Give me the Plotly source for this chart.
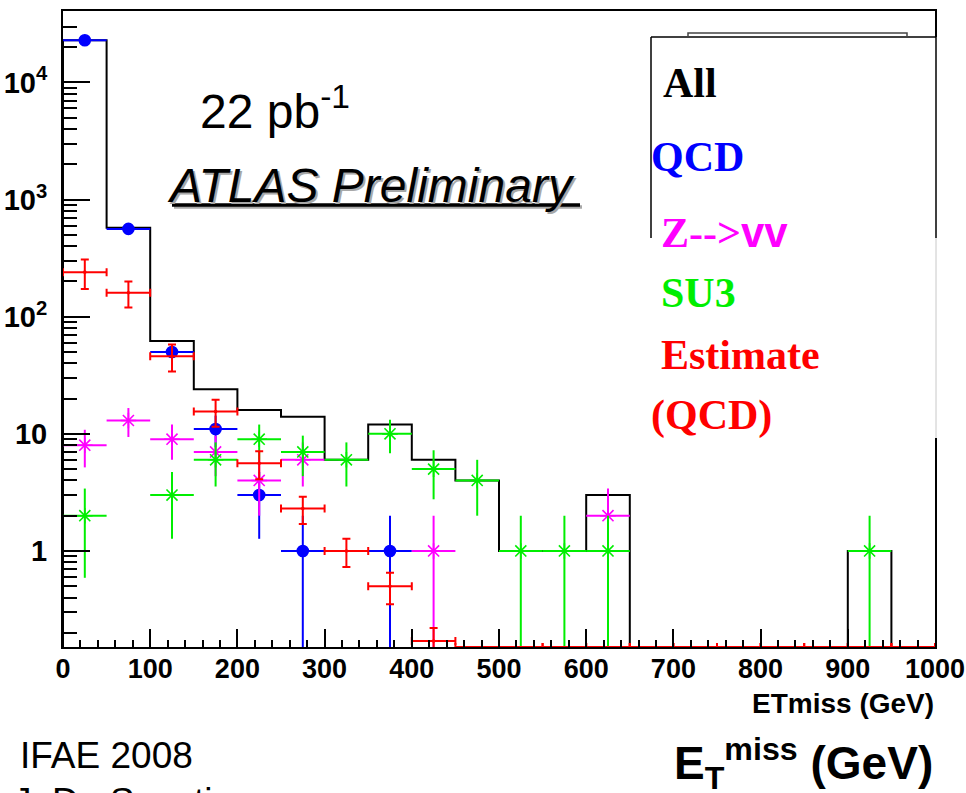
import math
import plotly.graph_objects as go

# Missing transverse energy, 50 GeV bins from 0 to 1000 GeV
bin_edges = [0, 50, 100, 150, 200, 250, 300, 350, 400, 450, 500,
             550, 600, 650, 700, 750, 800, 850, 900, 950, 1000]
bin_centers = [25, 75, 125, 175, 225, 275, 325, 375, 425, 475, 525,
               575, 625, 675, 725, 775, 825, 875, 925, 975]

# Sum of all samples (histogram)
all_counts = [22900, 575, 62, 24, 16, 14, 6, 12, 6, 4, 1, 1, 3, 0, 0, 0, 0, 0, 1, 0]

# QCD Monte Carlo
qcd_counts = [22890, 562, 50, 11, 3, 1, 0, 1, 0, 0, 0, 0, 0, 0, 0, 0, 0, 0, 0, 0]
qcd_err = [151, 23.7, 7.1, 3.3, 1.73, 1, 0, 1, 0, 0, 0, 0, 0, 0, 0, 0, 0, 0, 0, 0]

# Z -> nu nu
znn_counts = [8, 13, 9, 7, 4, 6, 0, 0, 1, 0, 0, 0, 2, 0, 0, 0, 0, 0, 0, 0]
znn_err = [2.83, 3.6, 3, 2.65, 2, 2.45, 0, 0, 1, 0, 0, 0, 1.41, 0, 0, 0, 0, 0, 0, 0]

# SUSY benchmark SU3
su3_counts = [2, 0, 3, 6, 9, 7, 6, 10, 5, 4, 1, 1, 1, 0, 0, 0, 0, 0, 1, 0]
su3_err = [1.41, 0, 1.73, 2.45, 3, 2.65, 2.45, 3.16, 2.24, 2, 1, 1, 1, 0, 0, 0, 0, 0, 1, 0]

# Data-driven QCD estimate
est_counts = [240, 160, 46, 15.5, 5.6, 2.3, 1.0, 0.5, 0.17, 0, 0, 0, 0, 0, 0, 0, 0, 0, 0, 0]
est_err = [68, 40, 12, 4, 1.5, 0.6, 0.27, 0.15, 0.05, 0, 0, 0, 0, 0, 0, 0, 0, 0, 0, 0]

x_tick_vals = [0, 100, 200, 300, 400, 500, 600, 700, 800, 900, 1000]
y_tick_vals = [1, 10, 100, 1000, 10000]
y_tick_text = ["1", "10", "10<sup>2</sup>", "10<sup>3</sup>", "10<sup>4</sup>"]

legend_entries = [("All", "#000000"), ("QCD", "#0000ff"),
                  ("Z--><span style=\"font-family:'Liberation Sans', Arial\">vv</span>", "#ff00ff"),
                  ("SU3", "#00ee00"), ("Estimate", "#ff0000"), ("(QCD)", "#ff0000")]

# ---- page geometry (pixels)
FIG_W, FIG_H = 966, 793
PL, PR, PT, PB = 63, 935, 11, 647
Y_LOG = [-0.82, 4.61]
FLOOR = 10 ** Y_LOG[0]


def px(x):
    return (x - PL) / (PR - PL)


def py(y):
    return (PB - y) / (PB - PT)


fig = go.Figure()

# "All" histogram as a step line; empty bins drop to the frame floor
step_x = [bin_edges[0]] + bin_edges[:-1] + [bin_edges[-1], bin_edges[-1]]
step_vals = [max(v, FLOOR) for v in all_counts]
step_y = [FLOOR] + step_vals + [step_vals[-1], FLOOR]
fig.add_trace(go.Scatter(x=step_x, y=step_y, mode="lines", line_shape="hv",
                         line=dict(color="black", width=2), hoverinfo="skip"))


def points(counts, errs, color, symbol, size, cap=0):
    xs, ys, ex, ey = [], [], [], []
    for c, v, e in zip(bin_centers, counts, errs):
        if v > 0:
            xs.append(c)
            ys.append(v)
            ey.append(e)
            ex.append(25)
    return go.Scatter(
        x=xs, y=ys, mode="markers",
        marker=dict(symbol=symbol, size=size, color=color,
                    line=dict(color=color, width=1.6)),
        error_x=dict(type="data", array=ex, color=color, thickness=2, width=cap),
        error_y=dict(type="data", array=ey, color=color, thickness=2, width=cap),
        hoverinfo="skip")


fig.add_trace(points(qcd_counts, qcd_err, "#0000ff", "circle", 11))
fig.add_trace(points(znn_counts, znn_err, "#ff00ff", "asterisk-open", 13))
fig.add_trace(points(su3_counts, su3_err, "#00ee00", "asterisk-open", 13))
fig.add_trace(points(est_counts, est_err, "#ff0000", "circle", 2, cap=4))

# empty estimate bins sit on the frame floor
zx = [c for c, v in zip(bin_centers, est_counts) if v == 0]
fig.add_trace(go.Scatter(
    x=zx, y=[FLOOR] * len(zx), mode="markers", cliponaxis=False,
    marker=dict(size=2, color="#ff0000"),
    error_x=dict(type="data", array=[25] * len(zx), color="#ff0000", thickness=2, width=4),
    hoverinfo="skip"))

axis_font = dict(family="Liberation Sans, Arial", size=27, color="black", weight="bold")

fig.update_xaxes(range=[0, 1000], tickvals=x_tick_vals, ticks="inside", ticklen=18,
                 tickwidth=1.5, tickcolor="black", showline=True, linecolor="black",
                 linewidth=2, mirror=True, showgrid=False, zeroline=False,
                 tickfont=axis_font, ticklabelstandoff=-3, automargin=False,
                 minor=dict(dtick=20, ticks="inside", ticklen=7, tickwidth=1.5,
                            tickcolor="black", showgrid=False))

minor_y = [m * 10 ** k for k in range(-1, 5) for m in range(2, 10)
           if Y_LOG[0] < math.log10(m * 10 ** k) < Y_LOG[1]]
fig.update_yaxes(type="log", range=Y_LOG, tickvals=y_tick_vals, ticktext=y_tick_text,
                 ticks="inside", ticklen=27, tickwidth=1.5, tickcolor="black",
                 showline=True, linecolor="black", linewidth=2, mirror=True,
                 showgrid=False, zeroline=False, tickfont=dict(axis_font, size=29),
                 ticklabelstandoff=8, automargin=False,
                 minor=dict(tickvals=minor_y, ticks="inside", ticklen=14, tickwidth=1.5,
                            tickcolor="black", showgrid=False))

shapes = []
# legend panel pasted over the upper right of the frame
shapes.append(dict(type="rect", xref="paper", yref="paper", x0=px(651), x1=px(937),
                   y0=py(438), y1=py(37), fillcolor="white", line=dict(width=0),
                   layer="above"))
shapes.append(dict(type="line", xref="paper", yref="paper", x0=px(651), x1=px(936),
                   y0=py(37), y1=py(37), line=dict(color="black", width=1.5), layer="above"))
shapes.append(dict(type="line", xref="paper", yref="paper", x0=px(651), x1=px(651),
                   y0=py(37), y1=py(238), line=dict(color="black", width=1.5), layer="above"))
shapes.append(dict(type="line", xref="paper", yref="paper", x0=px(936), x1=px(936),
                   y0=py(37), y1=py(238), line=dict(color="black", width=1.5), layer="above"))
shapes.append(dict(type="line", xref="paper", yref="paper", x0=px(936), x1=px(936),
                   y0=py(238), y1=py(438), line=dict(color="#c8c8c8", width=1), layer="above"))
# title box edge peeking out above the legend panel
shapes.append(dict(type="path", xref="paper", yref="paper",
                   path=f"M {px(688)} {py(37)} L {px(688)} {py(33)} L {px(907)} {py(33)} L {px(907)} {py(37)}",
                   line=dict(color="#444444", width=1.5), layer="above"))
# underline of the ATLAS label with its shadow
shapes.append(dict(type="line", xref="paper", yref="paper", x0=px(174), x1=px(582),
                   y0=py(207), y1=py(207), line=dict(color="#a8a8a8", width=3.5), layer="above"))
shapes.append(dict(type="line", xref="paper", yref="paper", x0=px(172), x1=px(580),
                   y0=py(205), y1=py(205), line=dict(color="black", width=3.5), layer="above"))

annotations = []


def label(text, x, y, size, color="black", family="Liberation Sans, Arial",
          weight="normal", style="normal", xanchor="left"):
    annotations.append(dict(text=text, xref="paper", yref="paper", x=px(x), y=py(y),
                            xanchor=xanchor, yanchor="middle", showarrow=False,
                            borderpad=0,
                            font=dict(family=family, size=size, color=color,
                                      weight=weight, style=style)))


label("22 pb<sup>-1</sup>", 199, 108, 48)
label("ATLAS Preliminary", 168, 187, 48, color="#a8a8a8", style="italic")
label("ATLAS Preliminary", 166, 185, 48, style="italic")

legend_pos = [(662, 83), (650, 157), (660, 232), (660, 293), (660, 355), (650, 415)]
for (txt, col), (lx, ly) in zip(legend_entries, legend_pos):
    label(txt, lx, ly, 42, color=col, family="Liberation Serif, Times New Roman",
          weight="bold")

label("ETmiss (GeV)", 935, 703, 28, weight="bold", xanchor="right")
label("IFAE 2008", 19, 756, 37)
label("J. De Sanctis", 12, 801, 37)
label("E<sub>T</sub><sup>miss</sup> (GeV)", 934, 763, 46, weight="bold", xanchor="right")

fig.update_layout(width=FIG_W, height=FIG_H, showlegend=False,
                  margin=dict(l=PL, r=FIG_W - PR, t=PT, b=FIG_H - PB),
                  paper_bgcolor="white", plot_bgcolor="white",
                  shapes=shapes, annotations=annotations)

fig.write_html("out.html")
